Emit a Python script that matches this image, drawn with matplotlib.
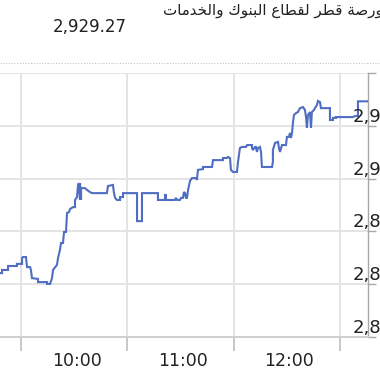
import matplotlib
matplotlib.use("Agg")
import matplotlib.pyplot as plt
from matplotlib.lines import Line2D
import matplotlib.transforms as mtransforms

# ---------------- data ----------------
title_ar = "بورصة قطر لقطاع البنوك والخدمات"
last_value = "2,929.27"

# minutes after 10:00
t_min = [-11.9, -10.7, -10.7, -7.3, -7.3, -2.3, -2.3, 0.6, 0.6, 1.1, 2.8, 3.4, 5.1, 5.6, 6.2,
         9.6, 9.6, 14.7, 14.7, 16.4, 17.5, 18.1, 20.3, 20.9, 22.0, 22.6, 23.7, 24.3, 25.4, 26.0,
         27.1, 27.7, 29.4, 30.5, 30.5, 31.6, 32.2, 32.7, 33.3, 33.3, 33.9, 33.9, 36.1, 37.3, 38.9,
         40.1, 48.5, 49.1, 51.9, 52.5, 53.1, 54.2, 55.9, 55.9, 57.6, 57.6, 65.5, 65.5, 68.3, 68.3,
         77.3, 77.3, 81.3, 81.3, 81.8, 81.8, 86.9, 87.5, 88.1, 89.7, 90.3, 91.4, 92.0, 92.6, 93.1,
         93.7, 94.3, 95.4, 96.5, 98.8, 99.3, 99.9, 102.7, 102.7, 107.8, 108.4, 114.0, 114.0, 116.3,
         116.8, 118.0, 118.5, 119.7, 121.9, 122.5, 123.6, 124.7, 127.0, 127.6, 130.4, 130.4, 130.9,
         132.1, 132.6, 133.2, 133.8, 134.9, 135.5, 136.0, 141.7, 142.2, 142.2, 143.4, 145.1, 145.6,
         146.2, 147.3, 149.6, 150.1, 151.3, 151.8, 152.4, 153.0, 153.5, 154.1, 155.2, 156.3, 157.5,
         159.2, 160.3, 160.9, 161.4, 162.0, 163.1, 163.7, 164.2, 165.4, 165.9, 167.1, 167.6, 168.8,
         169.3, 174.4, 174.4, 176.1, 176.1, 177.8, 177.8, 187.4, 188.5, 190.2, 190.2, 195.6]
values = [2864.2, 2864.2, 2865.4, 2865.4, 2866.9, 2866.9, 2867.7, 2867.7, 2869.9, 2870.3, 2870.3,
          2866.5, 2866.5, 2865.4, 2862.3, 2862.0, 2860.8, 2860.8, 2860.1, 2860.1, 2862.3, 2865.4,
          2867.3, 2869.9, 2873.0, 2875.6, 2875.6, 2879.8, 2879.8, 2887.0, 2887.3, 2888.5, 2889.2,
          2889.2, 2891.9, 2893.0, 2897.6, 2898.3, 2891.9, 2898.3, 2891.9, 2896.4, 2896.4, 2895.7,
          2894.9, 2894.5, 2894.5, 2897.2, 2897.6, 2894.5, 2892.7, 2891.9, 2891.9, 2893.0, 2893.0,
          2894.5, 2894.5, 2883.9, 2883.9, 2894.5, 2894.5, 2891.9, 2891.9, 2893.8, 2893.8, 2891.9,
          2891.9, 2892.7, 2891.9, 2891.9, 2892.7, 2892.7, 2894.9, 2894.5, 2892.7, 2892.7, 2895.7,
          2899.1, 2900.2, 2900.2, 2899.5, 2903.3, 2903.6, 2904.4, 2904.4, 2907.0, 2907.0, 2907.8,
          2907.8, 2908.2, 2907.8, 2903.3, 2902.5, 2902.5, 2906.3, 2911.6, 2912.0, 2912.0, 2912.7,
          2912.7, 2911.6, 2910.8, 2912.0, 2912.0, 2910.1, 2911.6, 2912.0, 2910.1, 2904.4, 2904.4,
          2906.3, 2910.8, 2913.5, 2913.9, 2911.6, 2910.1, 2912.7, 2912.7, 2915.8, 2915.8, 2917.3,
          2915.4, 2917.3, 2921.1, 2924.1, 2924.8, 2925.2, 2926.7, 2927.1, 2926.0, 2923.3, 2919.2,
          2924.1, 2925.2, 2919.2, 2925.2, 2926.0, 2926.7, 2927.9, 2929.4, 2929.0, 2926.7, 2926.7,
          2922.2, 2922.2, 2923.0, 2923.0, 2923.3, 2923.3, 2923.7, 2923.7, 2929.27, 2929.27]

hour_ticks = [0, 60, 120, 180]            # minutes after 10:00
hour_label_pos = [31.5, 91.5, 151.5]
hour_labels = ["10:00", "11:00", "12:00"]
y_ticks = [2840, 2860, 2880, 2900, 2920, 2940]
y_labels = ["2,840", "2,860", "2,880", "2,900", "2,920"]
y_label_vals = [2840, 2860, 2880, 2900, 2920]


# ------------- simple Arabic shaping (presentation forms) -------------
FORMS = {  # isolated, final, initial, medial
    'ا': ('\uFE8D', '\uFE8E', None, None),
    'ب': ('\uFE8F', '\uFE90', '\uFE91', '\uFE92'),
    'ة': ('\uFE93', '\uFE94', None, None),
    'ت': ('\uFE95', '\uFE96', '\uFE97', '\uFE98'),
    'خ': ('\uFEA5', '\uFEA6', '\uFEA7', '\uFEA8'),
    'د': ('\uFEA9', '\uFEAA', None, None),
    'ر': ('\uFEAD', '\uFEAE', None, None),
    'ص': ('\uFEB9', '\uFEBA', '\uFEBB', '\uFEBC'),
    'ط': ('\uFEC1', '\uFEC2', '\uFEC3', '\uFEC4'),
    'ع': ('\uFEC9', '\uFECA', '\uFECB', '\uFECC'),
    'ق': ('\uFED5', '\uFED6', '\uFED7', '\uFED8'),
    'ك': ('\uFED9', '\uFEDA', '\uFEDB', '\uFEDC'),
    'ل': ('\uFEDD', '\uFEDE', '\uFEDF', '\uFEE0'),
    'م': ('\uFEE1', '\uFEE2', '\uFEE3', '\uFEE4'),
    'ن': ('\uFEE5', '\uFEE6', '\uFEE7', '\uFEE8'),
    'و': ('\uFEED', '\uFEEE', None, None),
}


def shape(s):
    out = []
    for i, c in enumerate(s):
        if c not in FORMS:
            out.append(c)
            continue
        f = FORMS[c]
        prev = s[i - 1] if i > 0 else None
        nxt = s[i + 1] if i + 1 < len(s) else None
        cp = prev in FORMS and FORMS[prev][2] is not None
        cn = f[2] is not None and nxt in FORMS
        if cp and cn:
            out.append(f[3])
        elif cp:
            out.append(f[1])
        elif cn:
            out.append(f[2])
        else:
            out.append(f[0])
    return "".join(out)[::-1]


# ---------------- figure ----------------
W, H = 380, 372
fig = plt.figure(figsize=(W / 100, H / 100), dpi=100)
fig.patch.set_facecolor("white")
ax = fig.add_axes([0, 35 / H, 367.5 / W, 264 / H])
ax.set_facecolor("white")

ax.plot(t_min, values, color="#4f6dc2", lw=1.5, zorder=3, solid_joinstyle="miter")

ax.set_xlim(-11.85, 195.6)
ax.set_ylim(2840, 2940)

for s in ["left", "top"]:
    ax.spines[s].set_visible(False)
ax.spines["right"].set_color("#a8a8a8")
ax.spines["right"].set_linewidth(1.0)
ax.spines["bottom"].set_color("#cfcfcf")
ax.spines["bottom"].set_linewidth(1.4)

ax.set_yticks(y_ticks)
ax.yaxis.tick_right()
ax.tick_params(axis="y", which="both", length=6, color="#a8a8a8", labelright=False, width=1)
ax.grid(axis="y", color="#e4e4e4", lw=1.4, zorder=0)

ax.set_xticks(hour_ticks, minor=True)
ax.set_xticks(hour_label_pos)
ax.set_xticklabels(hour_labels)
ax.tick_params(axis="x", which="major", length=0, pad=11, labelsize=12.5, labelcolor="#222222")
ax.tick_params(axis="x", which="minor", length=10, color="#c8c8c8", width=1.4)
ax.grid(axis="x", which="minor", color="#e4e4e4", lw=1.4, zorder=0)

trans = mtransforms.blended_transform_factory(ax.transAxes, ax.transData)
for v, lab in zip(y_label_vals, y_labels):
    ax.text(353 / 367.5, v + 1.5, lab, transform=trans, ha="left", va="baseline",
            fontsize=13, color="#222222", zorder=5, clip_on=False)

# header
fig.add_artist(Line2D([0, 1], [(H - 63) / H] * 2, color="#c4c4c4", lw=0.8,
                      linestyle=(0, (1, 1.5))))
fig.text(163 / W, (H - 15) / H, shape(title_ar), ha="left", va="baseline",
         fontsize=10.9, color="#222222", family=["DejaVu Sans"])
fig.text(53 / W, (H - 32) / H, last_value, ha="left", va="baseline",
         fontsize=12, color="#222222")

fig.savefig("out.png", dpi=100, facecolor="white")
